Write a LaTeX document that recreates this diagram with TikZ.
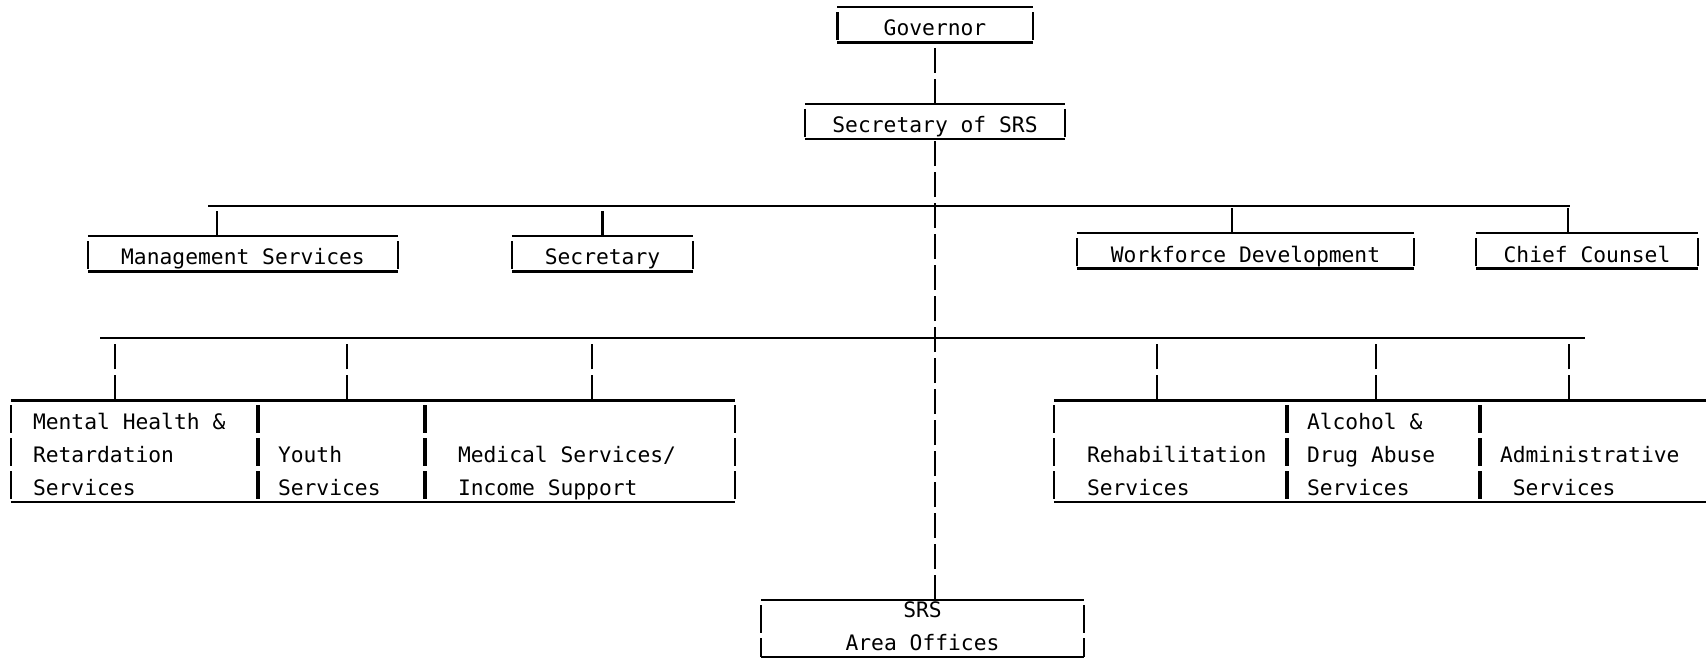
\documentclass[tikz,border=0pt]{standalone}
\usepackage{fontspec}
\newfontfamily\typer{DejaVu Sans Mono}[WordSpace={1,0,0}]
\newcommand{\tstrut}{\rule[-5.5pt]{0pt}{33pt}}
\tikzset{
  tbox/.style={inner ysep=0pt, align=center,
    font=\typer\fontsize{21.3}{33}\selectfont,
    execute at begin node={\spaceskip=0.602em\relax\xspaceskip=0.602em\relax\tstrut},
    append after command={
      (\tikzlastnode.north west) edge[boxline] (\tikzlastnode.north east)
      (\tikzlastnode.south west) edge[boxline] (\tikzlastnode.south east)
      ([yshift=-5pt]\tikzlastnode.north west) edge[sidebar] (\tikzlastnode.south west)
      ([yshift=-5pt]\tikzlastnode.north east) edge[sidebar] (\tikzlastnode.south east)}},
  boxline/.style={line width=2.2pt},
  sidebar/.style={line width=2.2pt, dash pattern=on 28pt off 5pt},
  link/.style={dash pattern=on 25pt off 6pt},
}
\begin{document}
\begin{tikzpicture}[x=1pt, y=-1pt, line width=2.2pt]
\useasboundingbox (0,0) rectangle (1706,663);
\node[tbox, minimum width=193pt] (gov) at (935,25) {Governor};
\node[tbox, minimum width=258pt] (srs) at (935,121.5) {Secretary of SRS};
\node[tbox, minimum width=308pt] (mgmt) at (243,254) {Management Services};
\node[tbox, minimum width=179pt] (secy) at (602.5,254) {Secretary};
\node[tbox, minimum width=335pt] (wfd) at (1245.5,251) {Workforce Development};
\node[tbox, minimum width=220pt] (chief) at (1587,251) {Chief Counsel};
\node[tbox, align=left, inner xsep=21pt, text width=204pt] (mhr) at (135,451) {Mental Health \&\\\tstrut Retardation\\\tstrut Services};
\node[tbox, align=left, inner xsep=20pt, text width=127pt] (youth) at (341.5,451) {\\\tstrut Youth\\\tstrut Services};
\node[tbox, align=left, inner xsep=33pt, text width=243pt] (med) at (579.5,451) {\\\tstrut Medical Services/\\\tstrut Income Support};
\node[tbox, align=left, inner xsep=32pt, text width=168pt] (rehab) at (1171,451) {\\\tstrut \mbox{Rehabilitation}\\\tstrut Services};
\node[tbox, align=left, inner xsep=20pt, text width=153pt] (alc) at (1383.5,451) {Alcohol \&\\\tstrut Drug Abuse\\\tstrut Services};
\node[tbox, align=left, inner xsep=20pt, text width=240pt] (adm) at (1620,451) {\\\tstrut Administrative\\\tstrut\ Services};
\node[tbox, minimum width=321pt] (area) at (922.5,628.5) {SRS\\\tstrut Area Offices};
\coordinate (b1w) at (208,206);
\coordinate (b1e) at (1570,206);
\coordinate (b2w) at (100,338);
\coordinate (b2e) at (1585,338);
\draw (b1w) -- (b1e);
\draw (b2w) -- (b2e);
\draw[link] (srs.north) -- (srs.north |- gov.south);
\draw[link] (srs.south |- area.north) -- (srs.south);
\draw[link] ([xshift=-26pt]mgmt.north) -- ([xshift=-26pt]mgmt.north |- b1w);
\draw[link] (secy.north) -- (secy.north |- b1w);
\draw[link] ([xshift=-13.5pt]wfd.north) -- ([xshift=-13.5pt]wfd.north |- b1w);
\draw[link] ([xshift=-19pt]chief.north) -- ([xshift=-19pt]chief.north |- b1w);
\draw[link] ([xshift=-20pt]mhr.north) -- ([xshift=-20pt]mhr.north |- b2w);
\draw[link] ([xshift=5.5pt]youth.north) -- ([xshift=5.5pt]youth.north |- b2w);
\draw[link] ([xshift=12.5pt]med.north) -- ([xshift=12.5pt]med.north |- b2w);
\draw[link] ([xshift=-14pt]rehab.north) -- ([xshift=-14pt]rehab.north |- b2w);
\draw[link] ([xshift=-7.5pt]alc.north) -- ([xshift=-7.5pt]alc.north |- b2w);
\draw[link] ([xshift=-51pt]adm.north) -- ([xshift=-51pt]adm.north |- b2w);
\end{tikzpicture}
\end{document}
